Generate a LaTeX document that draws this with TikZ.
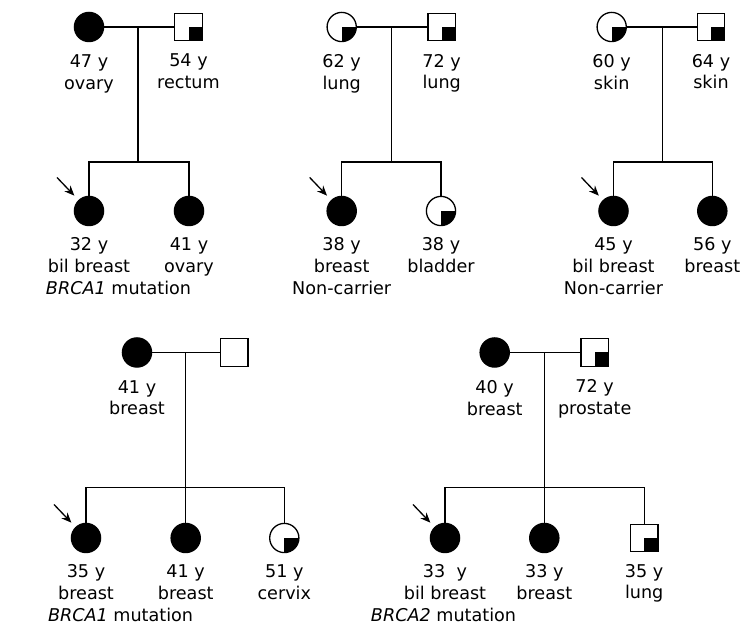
\documentclass[tikz,border=0pt]{standalone}
\usepackage{fontspec}
\setmainfont{DejaVu Sans}
\usepackage{tikz}
\usetikzlibrary{arrows.meta, positioning}

\newcommand{\mutline}[2]{\makebox[0pt][l]{\hspace*{#1}#2}}

\begin{document}
\begin{tikzpicture}[
        x=0.5pt, y=-0.5pt,
        line width=0.65pt,
        female/.style = {draw, circle, minimum size=14.6pt, inner sep=0pt},
        male/.style = {draw, rectangle, minimum size=13.7pt, inner sep=0pt},
        affected/.style = {fill=black},
        quarter/.style = {path picture={\fill (path picture bounding box.center) rectangle (path picture bounding box.south east);}},
        lbl/.style = {inner sep=0pt, align=center, font=\fontsize{8.8}{10.85}\selectfont},
        proband/.style = {-{Stealth[length=5pt, width=4.2pt]}, shorten >=3pt}
    ]
        \useasboundingbox (0,0) rectangle (741,625);

        % Family A
        \node [female, affected] (amot) at (89,27) {};
        \node [male, quarter] (afat) at (188.5,27) {};
        \node [female, affected] (ak1) at (89,211) {};
        \node [female, affected] (ak2) at (189,211) {};
        \coordinate (ajoin) at (138,27);
        \coordinate (asib) at (138,162);
        \coordinate (aarr) at ([shift={(-32,-33.5)}]ak1);
        \node [lbl, below=6pt of amot] (amotl) {47 y\\ovary};
        \node [lbl, below=6pt of afat] (afatl) {54 y\\rectum};
        \node [lbl, below=5.5pt of ak1] (ak1l) {32 y\\bil breast\\\mutline{-21.5pt}{\textit{BRCA1} mutation}};
        \node [lbl, below=5.5pt of ak2] (ak2l) {41 y\\ovary};

        % Family B
        \node [female, quarter] (bmot) at (341.7,27) {};
        \node [male, quarter] (bfat) at (441.7,27) {};
        \node [female, affected] (bk1) at (341.7,211) {};
        \node [female, quarter] (bk2) at (441,211) {};
        \coordinate (bjoin) at (391.7,27);
        \coordinate (bsib) at (391.7,162);
        \coordinate (barr) at ([shift={(-32,-33.5)}]bk1);
        \node [lbl, below=6pt of bmot] (bmotl) {62 y\\lung};
        \node [lbl, below=6pt of bfat] (bfatl) {72 y\\lung};
        \node [lbl, below=5.5pt of bk1] (bk1l) {38 y\\breast\\Non-carrier};
        \node [lbl, below=5.5pt of bk2] (bk2l) {38 y\\bladder};

        % Family C
        \node [female, quarter] (cmot) at (611.7,27) {};
        \node [male, quarter] (cfat) at (711,27) {};
        \node [female, affected] (ck1) at (613.5,211) {};
        \node [female, affected] (ck2) at (712.3,211) {};
        \coordinate (cjoin) at (662.7,27);
        \coordinate (csib) at (662.7,162);
        \coordinate (carr) at ([shift={(-32,-33.5)}]ck1);
        \node [lbl, below=6pt of cmot] (cmotl) {60 y\\skin};
        \node [lbl, below=6pt of cfat] (cfatl) {64 y\\skin};
        \node [lbl, below=5.5pt of ck1] (ck1l) {45 y\\bil breast\\Non-carrier};
        \node [lbl, below=5.5pt of ck2] (ck2l) {56 y\\breast};

        % Family D
        \node [female, affected] (dmot) at (137,352.5) {};
        \node [male] (dfat) at (234.2,352.5) {};
        \node [female, affected] (dk1) at (86,538) {};
        \node [female, affected] (dk2) at (185.7,538) {};
        \node [female, quarter] (dk3) at (284.3,538) {};
        \coordinate (djoin) at (185.7,352.5);
        \coordinate (dsib) at (185.7,487.7);
        \coordinate (darr) at ([shift={(-32,-33.5)}]dk1);
        \node [lbl, below=6pt of dmot] (dmotl) {41 y\\breast};
        \node [lbl, below=5.5pt of dk1] (dk1l) {35 y\\breast\\\mutline{-19pt}{\textit{BRCA1} mutation}};
        \node [lbl, below=5.5pt of dk2] (dk2l) {41 y\\breast};
        \node [lbl, below=5.5pt of dk3] (dk3l) {51 y\\cervix};

        % Family E
        \node [female, affected] (emot) at (494.7,352.5) {};
        \node [male, quarter] (efat) at (594.7,352.5) {};
        \node [female, affected] (ek1) at (445,538) {};
        \node [female, affected] (ek2) at (544.3,538) {};
        \node [male, quarter] (ek3) at (644.2,538) {};
        \coordinate (ejoin) at (544.3,352.5);
        \coordinate (esib) at (544.3,487.7);
        \coordinate (earr) at ([shift={(-32,-33.5)}]ek1);
        \node [lbl, below=6pt of emot] (emotl) {40 y\\breast};
        \node [lbl, below=6pt of efat] (efatl) {72 y\\prostate};
        \node [lbl, below=5.5pt of ek1] (ek1l) {33~ y\\bil breast\\\mutline{-37pt}{\textit{BRCA2} mutation}};
        \node [lbl, below=5.5pt of ek2] (ek2l) {33 y\\breast};
        \node [lbl, below=5.5pt of ek3] (ek3l) {35 y\\lung};

        % Connectors
        \foreach \f in {a, b, c} {
            \draw (\f mot) -- (\f fat);
            \draw (\f join) -- (\f sib);
            \draw (\f k1) |- (\f sib) -| (\f k2);
            \draw [proband] (\f arr) -- (\f k1);
        }
        \foreach \f in {d, e} {
            \draw (\f mot) -- (\f fat);
            \draw (\f join) -- (\f sib) -- (\f k2);
            \draw (\f k1) |- (\f sib) -| (\f k3);
            \draw [proband] (\f arr) -- (\f k1);
        }
    \end{tikzpicture}
\end{document}
